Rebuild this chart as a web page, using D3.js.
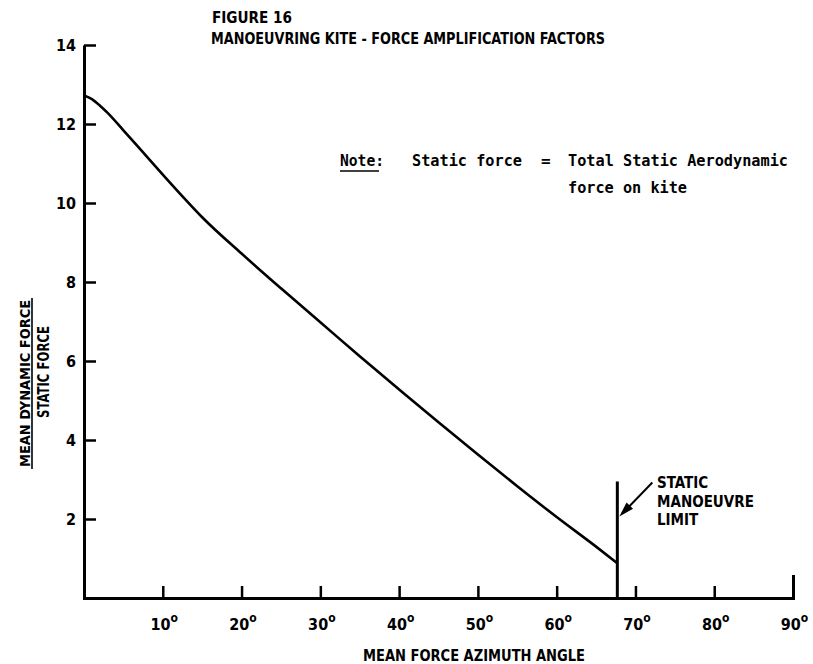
<!DOCTYPE html>
<html>
<head>
<meta charset="utf-8">
<script src="https://cdn.jsdelivr.net/npm/d3@7"></script>
<style>
  html, body { margin: 0; padding: 0; background: #fff; }
  svg { display: block; }
  .cond { font-family: "DejaVu Sans Condensed", "Liberation Sans Narrow", sans-serif; font-weight: bold; }
  .mono { font-family: "DejaVu Sans Mono", "Liberation Mono", monospace; font-weight: bold; }
</style>
</head>
<body>
<script>
// ---- data ----
const angles = [0, 1, 2, 3, 5, 7.5, 10, 12.5, 15, 20, 25, 30, 35, 40, 45, 50, 55, 60, 65, 67.7];
const ratios = [12.72, 12.63, 12.47, 12.28, 11.84, 11.28, 10.72, 10.17, 9.64, 8.72, 7.84, 6.98, 6.12, 5.28, 4.45, 3.63, 2.83, 2.05, 1.3, 0.88];
const xTicks = [10, 20, 30, 40, 50, 60, 70, 80, 90];
const yTicks = [2, 4, 6, 8, 10, 12, 14];
const limitAngle = 67.7;
const limitTop = 2.95;
const titleLines = ["FIGURE 16", "MANOEUVRING KITE - FORCE AMPLIFICATION FACTORS"];
const yLabelTop = "MEAN DYNAMIC FORCE";
const yLabelBottom = "STATIC FORCE";
const xLabel = "MEAN FORCE AZIMUTH ANGLE";
const limitLabel = ["STATIC", "MANOEUVRE", "LIMIT"];

const W = 813, H = 664;
const svg = d3.select("body").append("svg").attr("width", W).attr("height", H);

const x = d3.scaleLinear().domain([0, 90]).range([84, 793]);
const y = d3.scaleLinear().domain([0, 14]).range([598, 45]);

// x axis
const gx = svg.append("g").attr("transform", `translate(0,${y(0)})`)
  .call(d3.axisBottom(x).tickValues(xTicks).tickSizeInner(-12).tickSizeOuter(-23).tickFormat(""));
gx.select(".domain").attr("stroke", "#000").attr("stroke-width", 3).attr("fill", "none");
gx.selectAll(".tick line").attr("stroke", "#000").attr("stroke-width", 2.5);
gx.selectAll(".tick").each(function(d) {
  const t = d3.select(this).append("text").attr("class", "cond")
    .attr("x", 1).attr("y", 32).attr("text-anchor", "middle")
    .attr("fill", "#000").attr("font-size", 16);
  t.append("tspan").text(d);
  t.append("tspan").attr("font-size", 12).attr("dy", -8).text("o");
});

// y axis
const gy = svg.append("g").attr("transform", `translate(${x(0)},0)`)
  .call(d3.axisLeft(y).tickValues(yTicks).tickSizeInner(-12).tickSizeOuter(0).tickPadding(8));
gy.select(".domain").attr("stroke", "#000").attr("stroke-width", 3).attr("fill", "none");
gy.selectAll(".tick line").attr("stroke", "#000").attr("stroke-width", 2.5);
gy.selectAll(".tick text").attr("class", "cond").attr("font-size", 16).attr("fill", "#000").attr("dy", "0.36em");

// curve
const line = d3.line().x((d, i) => x(angles[i])).y(d => y(d)).curve(d3.curveMonotoneX);
svg.append("path").attr("d", line(ratios)).attr("fill", "none").attr("stroke", "#000").attr("stroke-width", 2.6);

// static manoeuvre limit line
svg.append("line")
  .attr("x1", x(limitAngle)).attr("x2", x(limitAngle))
  .attr("y1", y(0)).attr("y2", y(limitTop))
  .attr("stroke", "#000").attr("stroke-width", 3);

// arrow
const ax0 = x(limitAngle) + 35, ay0 = y(limitTop) + 1;
const ax1 = x(limitAngle) + 2, ay1 = y(limitTop) + 35;
svg.append("line").attr("x1", ax0).attr("y1", ay0).attr("x2", ax1 + 6).attr("y2", ay1 - 6)
  .attr("stroke", "#000").attr("stroke-width", 2);
{
  const ang = Math.atan2(ay1 - ay0, ax1 - ax0);
  const L = 15, Wd = 4.5;
  const bx = ax1 - L * Math.cos(ang), by = ay1 - L * Math.sin(ang);
  const px = -Math.sin(ang) * Wd, py = Math.cos(ang) * Wd;
  svg.append("path").attr("d", `M${ax1},${ay1}L${bx + px},${by + py}L${bx - px},${by - py}Z`).attr("fill", "#000");
}
const limitY = [488, 507, 525];
limitLabel.forEach((s, i) => {
  svg.append("text").attr("class", "cond").attr("x", 657).attr("y", limitY[i])
    .attr("font-size", 15).attr("fill", "#000").text(s);
});

// titles
svg.append("text").attr("class", "cond").attr("x", 212).attr("y", 23).attr("font-size", 16)
  .attr("textLength", 80).attr("lengthAdjust", "spacingAndGlyphs").text(titleLines[0]);
svg.append("text").attr("class", "cond").attr("x", 211).attr("y", 44).attr("font-size", 16)
  .attr("textLength", 394).attr("lengthAdjust", "spacingAndGlyphs").text(titleLines[1]);

// note
const note = svg.append("g").attr("class", "mono").attr("font-size", 16).attr("fill", "#000");
note.append("text").attr("x", 340).attr("y", 166).attr("textLength", 44).attr("lengthAdjust", "spacingAndGlyphs").text("Note:");
note.append("line").attr("x1", 340).attr("x2", 379).attr("y1", 171).attr("y2", 171).attr("stroke", "#000").attr("stroke-width", 1.6);
note.append("text").attr("x", 412).attr("y", 166).attr("textLength", 110).attr("lengthAdjust", "spacingAndGlyphs").text("Static force");
note.append("text").attr("x", 541).attr("y", 166).text("=");
note.append("text").attr("x", 568).attr("y", 166).attr("textLength", 220).attr("lengthAdjust", "spacingAndGlyphs").text("Total Static Aerodynamic");
note.append("text").attr("x", 568).attr("y", 193).attr("textLength", 119).attr("lengthAdjust", "spacingAndGlyphs").text("force on kite");

// y label (fraction)
svg.append("text").attr("class", "cond").attr("font-size", 14)
  .attr("transform", "translate(30,383.5) rotate(-90)").attr("text-anchor", "middle")
  .attr("textLength", 167).attr("lengthAdjust", "spacingAndGlyphs").text(yLabelTop);
svg.append("line").attr("x1", 32).attr("x2", 32).attr("y1", 298).attr("y2", 469)
  .attr("stroke", "#000").attr("stroke-width", 1.6);
svg.append("text").attr("class", "cond").attr("font-size", 15)
  .attr("transform", "translate(49,372) rotate(-90)").attr("text-anchor", "middle")
  .attr("textLength", 92).attr("lengthAdjust", "spacingAndGlyphs").text(yLabelBottom);

// x label
svg.append("text").attr("class", "cond").attr("x", 474).attr("y", 661).attr("text-anchor", "middle")
  .attr("font-size", 15).attr("textLength", 222).attr("lengthAdjust", "spacingAndGlyphs").text(xLabel);
</script>
</body>
</html>
